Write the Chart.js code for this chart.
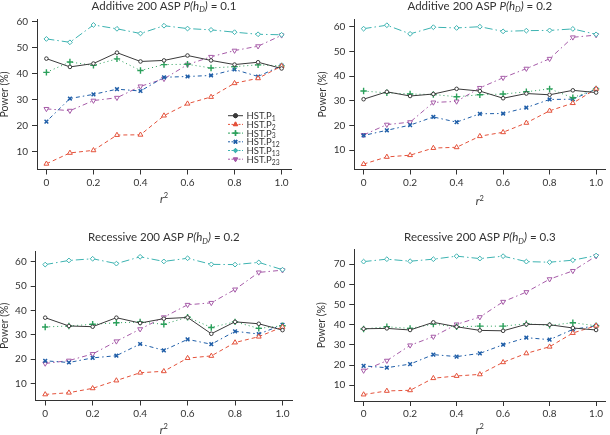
<!DOCTYPE html>
<html><head><meta charset="utf-8">
<script src="https://cdn.jsdelivr.net/npm/chart.js@4/dist/chart.umd.min.js"></script>
<style>
html,body{margin:0;padding:0;background:#fff;width:610px;height:435px;overflow:hidden;}
.p{position:absolute;}
canvas{display:block;}
</style></head><body>
<div class="p" style="left:0px;top:0px"><canvas id="c0" width="305" height="215"></canvas></div>
<div class="p" style="left:305px;top:0px"><canvas id="c1" width="305" height="215"></canvas></div>
<div class="p" style="left:0px;top:215px"><canvas id="c2" width="305" height="220"></canvas></div>
<div class="p" style="left:305px;top:215px"><canvas id="c3" width="305" height="220"></canvas></div>
<script>
// ---- data ----
const r2 = [0, 0.1, 0.2, 0.3, 0.4, 0.5, 0.6, 0.7, 0.8, 0.9, 1.0];
const xTicks = [0, 0.2, 0.4, 0.6, 0.8, 1.0];
const xTickLabels = ['0', '0.2', '0.4', '0.6', '0.8', '1.0'];
const yTicks60 = [10, 20, 30, 40, 50, 60];
const yTicks70 = [10, 20, 30, 40, 50, 60, 70];
const seriesBase = 'HST.P';
const seriesSub = ['1', '2', '3', '12', '13', '23'];
const titlePrefix = ['Additive 200 ASP', 'Additive 200 ASP', 'Recessive 200 ASP', 'Recessive 200 ASP'];
const titleValue = ['0.1', '0.2', '0.2', '0.3'];
const yAxisLabel = 'Power (%)';

// Additive, P(hD) = 0.1
const add01_P1  = [45.8, 42.6, 43.9, 48.1, 44.7, 45.1, 47.0, 45.1, 43.5, 44.4, 42.0];
const add01_P2  = [5.2, 9.4, 10.4, 16.3, 16.4, 23.8, 28.4, 31.0, 36.3, 38.2, 42.9];
const add01_P3  = [40.5, 44.5, 43.2, 45.7, 41.2, 43.5, 43.6, 42.2, 42.7, 43.4, 43.0];
const add01_P12 = [21.5, 30.4, 32.0, 34.0, 33.3, 38.6, 38.9, 39.3, 41.6, 38.9, 43.1];
const add01_P13 = [53.4, 52.1, 58.8, 57.3, 55.5, 58.5, 57.4, 56.9, 56.0, 55.2, 55.0];
const add01_P23 = [26.4, 25.7, 29.6, 30.7, 35.1, 38.0, 43.5, 46.5, 48.9, 50.6, 54.8];

// Additive, P(hD) = 0.2
const add02_P1  = [30.7, 33.7, 32.0, 32.8, 34.9, 34.0, 31.1, 33.0, 32.5, 34.3, 33.4];
const add02_P2  = [4.4, 7.3, 8.0, 10.9, 11.2, 15.7, 17.3, 21.1, 26.0, 29.1, 34.9];
const add02_P3  = [34.0, 33.3, 32.8, 32.6, 31.7, 32.5, 32.8, 33.7, 34.9, 31.3, 34.9];
const add02_P12 = [16.0, 18.1, 20.2, 23.5, 21.4, 24.8, 24.9, 27.3, 30.6, 30.7, 34.8];
const add02_P13 = [59.3, 60.7, 57.2, 59.9, 59.6, 60.1, 58.2, 58.5, 58.6, 59.2, 57.0];
const add02_P23 = [16.2, 20.4, 21.4, 29.4, 29.8, 35.3, 39.4, 43.1, 47.1, 55.8, 56.7];

// Recessive, P(hD) = 0.2
const rec02_P1  = [37.0, 33.6, 33.3, 37.0, 34.8, 36.6, 37.1, 30.4, 35.3, 34.5, 31.9];
const rec02_P2  = [5.5, 6.2, 8.0, 11.2, 14.4, 15.0, 20.4, 21.3, 26.8, 29.2, 33.2];
const rec02_P3  = [33.2, 33.6, 34.3, 34.9, 35.2, 34.3, 37.2, 33.0, 35.3, 32.6, 33.7];
const rec02_P12 = [19.3, 18.6, 20.5, 21.4, 26.2, 23.6, 28.1, 26.1, 31.4, 30.3, 34.1];
const rec02_P13 = [58.8, 60.5, 61.2, 59.2, 62.0, 60.1, 61.4, 58.9, 58.8, 59.7, 56.7];
const rec02_P23 = [18.2, 19.4, 22.1, 27.3, 32.3, 37.2, 42.3, 43.1, 48.6, 55.6, 56.5];

// Recessive, P(hD) = 0.3
const rec03_P1  = [38.0, 38.2, 37.4, 41.2, 39.0, 37.2, 37.0, 40.2, 40.0, 38.4, 37.4];
const rec03_P2  = [5.4, 7.2, 7.5, 13.5, 14.6, 15.4, 21.4, 25.8, 29.1, 35.9, 39.5];
const rec03_P3  = [37.9, 39.0, 38.2, 40.3, 39.0, 39.3, 39.3, 40.5, 39.7, 41.0, 39.5];
const rec03_P12 = [19.6, 18.7, 20.5, 25.2, 24.2, 25.8, 30.1, 33.6, 32.6, 37.7, 39.5];
const rec03_P13 = [71.3, 72.5, 71.5, 72.5, 74.0, 72.8, 74.0, 71.3, 71.0, 72.0, 74.3];
const rec03_P23 = [17.3, 22.2, 29.8, 34.1, 40.2, 43.8, 51.4, 56.2, 62.6, 66.7, 74.0];

const panelSeries = [
  [add01_P1, add01_P2, add01_P3, add01_P12, add01_P13, add01_P23],
  [add02_P1, add02_P2, add02_P3, add02_P12, add02_P13, add02_P23],
  [rec02_P1, rec02_P2, rec02_P3, rec02_P12, rec02_P13, rec02_P23],
  [rec03_P1, rec03_P2, rec03_P3, rec03_P12, rec03_P13, rec03_P23]
];
const panelYTicks = [yTicks60, yTicks60, yTicks60, yTicks70];

// ---- styling / layout ----
const FONT = 'Lato, "Open Sans", "DejaVu Sans", sans-serif';
const INK = '#333333';
const styles = [
  {color: '#3a3a3a', dash: [], point: 'circle', r: 1.8, rot: 0, bw: 1},
  {color: '#e4523b', dash: [4, 3], point: 'triangle', r: 2.8, rot: 0, bw: 1},
  {color: '#2ba05b', dash: [1, 3], point: 'cross', r: 3.2, rot: 0, bw: 1.4},
  {color: '#1f5ea8', dash: [1.5, 3, 4, 3], point: 'crossRot', r: 2.6, rot: 0, bw: 1.5},
  {color: '#3db3b1', dash: [8, 3, 1.5, 3], point: 'rectRot', r: 2.4, rot: 0, bw: 1},
  {color: '#a65ba8', dash: [5, 3, 1.5, 3], point: 'triangle', r: 2.8, rot: 180, bw: 1}
];
const layouts = [
  {w: 305, h: 215, area: {left: 37, right: 291, top: 19.5, bottom: 169.5}, ymin: 3.0, ymax: 60.9, titleY: 9.8, xLabY: 199, yLabX: 5},
  {w: 305, h: 215, area: {left: 49.3, right: 304.8, top: 19.3, bottom: 169.5}, ymin: 2.2, ymax: 63.1, titleY: 9.8, xLabY: 201.5, yLabX: 17.5},
  {w: 305, h: 220, area: {left: 35.7, right: 292, top: 36.2, bottom: 185.5}, ymin: 3.0, ymax: 64.3, titleY: 26.2, xLabY: 215, yLabX: 4.5},
  {w: 305, h: 220, area: {left: 49.3, right: 304.8, top: 34.5, bottom: 186}, ymin: 2.2, ymax: 77.3, titleY: 26.2, xLabY: 215, yLabX: 17}
];

function drawMarker(ctx, st, x, y, filled) {
  ctx.save();
  ctx.setLineDash([]);
  ctx.strokeStyle = st.color;
  ctx.fillStyle = filled ? st.color : '#fff';
  ctx.lineWidth = st.bw;
  Chart.helpers.drawPoint(ctx, {pointStyle: st.point, radius: st.r, rotation: st.rot, borderWidth: st.bw}, x, y);
  if (st.point !== 'cross' && st.point !== 'crossRot') { ctx.fill(); }
  ctx.stroke();
  ctx.restore();
}

function drawRuns(ctx, runs, cx, baseline) {
  let total = 0;
  runs.forEach(r => { ctx.font = r.f; r.w = ctx.measureText(r.t).width; total += r.w; });
  let x = cx - total / 2;
  runs.forEach(r => { ctx.font = r.f; ctx.fillText(r.t, x, baseline + (r.dy || 0)); x += r.w; });
}

const textPlugin = {
  id: 'texts',
  afterDraw(chart, args, opts) {
    const ctx = chart.ctx;
    const L = layouts[opts.idx];
    const a = chart.chartArea;
    ctx.save();
    ctx.fillStyle = INK;
    ctx.textAlign = 'left';
    ctx.textBaseline = 'alphabetic';
    const cx = (a.left + a.right) / 2;
    drawRuns(ctx, [
      {t: titlePrefix[opts.idx] + ' ', f: `11.5px ${FONT}`},
      {t: 'P(h', f: `italic 11.5px ${FONT}`},
      {t: 'D', f: `italic 8px ${FONT}`, dy: 2.5},
      {t: ')', f: `italic 11.5px ${FONT}`},
      {t: ' = ' + titleValue[opts.idx], f: `11.5px ${FONT}`}
    ], cx, L.titleY);
    // x label
    drawRuns(ctx, [
      {t: 'r', f: `italic 11px ${FONT}`},
      {t: '2', f: `7.5px ${FONT}`, dy: -4.5}
    ], cx, L.xLabY + 3.5);
    // y label
    ctx.save();
    ctx.translate(L.yLabX, (a.top + a.bottom) / 2);
    ctx.rotate(-Math.PI / 2);
    ctx.textAlign = 'center';
    ctx.textBaseline = 'middle';
    ctx.font = `10.5px ${FONT}`;
    ctx.fillText(yAxisLabel, 0, 0);
    ctx.restore();
    // legend
    if (opts.legend) {
      const x0 = 228, x1 = 243, tx = 246.5;
      chart.data.datasets.forEach((ds, i) => {
        const st = styles[i];
        const y = 115.7 + i * 8.7;
        ctx.save();
        ctx.strokeStyle = st.color;
        ctx.lineWidth = 1;
        ctx.setLineDash(st.dash.length ? [2, 1.5] : []);
        ctx.beginPath(); ctx.moveTo(x0, y); ctx.lineTo(x1, y); ctx.stroke();
        ctx.restore();
        drawMarker(ctx, Object.assign({}, st, {r: Math.max(st.r * 0.9, 2)}), (x0 + x1) / 2, y, true);
        ctx.fillStyle = INK;
        ctx.font = `9.5px ${FONT}`;
        ctx.fillText(seriesBase, tx, y + 3.4);
        const w = ctx.measureText(seriesBase).width;
        ctx.font = `6.8px ${FONT}`;
        ctx.fillText(seriesSub[i], tx + w, y + 5.3);
      });
    }
    ctx.restore();
  }
};

function makeChart(idx) {
  const L = layouts[idx];
  const datasets = panelSeries[idx].map((arr, i) => {
    const st = styles[i];
    return {
      label: seriesBase + seriesSub[i],
      data: r2.map((x, j) => ({x: x, y: arr[j]})),
      borderColor: st.color,
      borderWidth: 1,
      borderDash: st.dash,
      pointStyle: st.point,
      pointRadius: st.r,
      pointRotation: st.rot,
      pointBorderWidth: st.bw,
      pointBorderColor: st.color,
      pointBackgroundColor: '#ffffff',
      pointHoverRadius: st.r,
      tension: 0,
      fill: false
    };
  });
  const yT = panelYTicks[idx];
  return new Chart(document.getElementById('c' + idx), {
    type: 'line',
    data: {datasets: datasets},
    plugins: [textPlugin],
    options: {
      responsive: false,
      animation: false,
      devicePixelRatio: 1,
      layout: {padding: {left: 0, top: L.area.top, right: L.w - L.area.right, bottom: 0}},
      plugins: {legend: {display: false}, title: {display: false}, tooltip: {enabled: false},
                texts: {idx: idx, legend: idx === 0}},
      scales: {
        x: {
          type: 'linear', min: -0.04, max: 1.04,
          afterBuildTicks: s => { s.ticks = xTicks.map(v => ({value: v})); },
          afterFit: s => { s.height = L.h - L.area.bottom; s.paddingLeft = 0; s.paddingRight = 0; },
          ticks: {color: INK, font: {family: FONT, size: 10}, padding: 2, maxRotation: 0,
                  callback: (v, i) => xTickLabels[i]},
          grid: {display: true, drawOnChartArea: false, drawTicks: true, tickLength: 5, color: INK, lineWidth: 1},
          border: {display: true, color: INK, width: 1}
        },
        y: {
          type: 'linear', min: L.ymin, max: L.ymax,
          afterBuildTicks: s => { s.ticks = yT.map(v => ({value: v})); },
          afterFit: s => { s.width = L.area.left; s.paddingTop = 0; s.paddingBottom = 0; },
          ticks: {color: INK, font: {family: FONT, size: 10}, padding: 4,
                  callback: v => String(v)},
          grid: {display: true, drawOnChartArea: false, drawTicks: true, tickLength: 5, color: INK, lineWidth: 1},
          border: {display: true, color: INK, width: 1}
        }
      }
    }
  });
}
[0, 1, 2, 3].forEach(makeChart);
</script>
</body></html>
